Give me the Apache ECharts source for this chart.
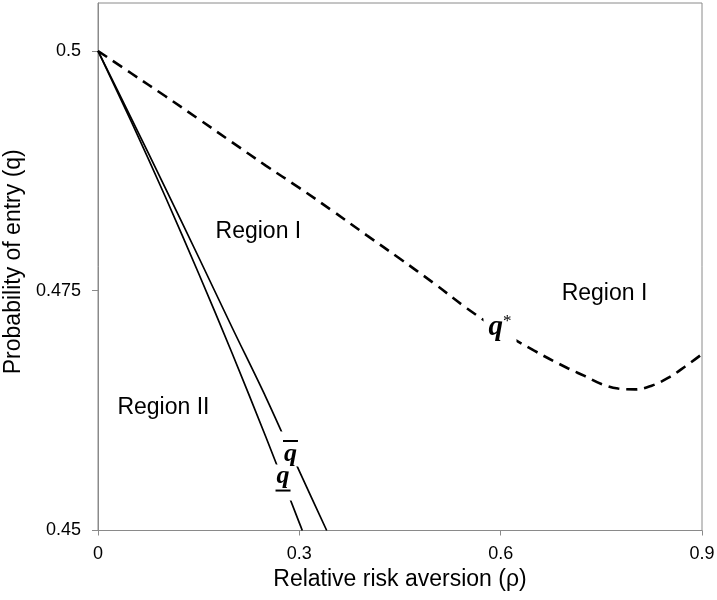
<!DOCTYPE html>
<html>
<head>
<meta charset="utf-8">
<title>Probability of entry vs relative risk aversion</title>
<script src="https://cdn.jsdelivr.net/npm/echarts@6/dist/echarts.min.js"></script>
<style>
  html, body { margin: 0; padding: 0; background: #fff; }
  #chart { width: 717px; height: 600px; }
</style>
</head>
<body>
<div id="chart"></div>
<script>
// Equilibrium threshold q* (dashed curve)
const rhoStar = [0, 0.05, 0.1, 0.15, 0.2, 0.25, 0.3, 0.35, 0.4, 0.45, 0.5, 0.55, 0.6, 0.65, 0.7, 0.725, 0.75, 0.775, 0.8, 0.825, 0.85, 0.875, 0.9];
const qStar   = [0.5, 0.49765, 0.4953, 0.4929, 0.49047, 0.48805, 0.48572, 0.4833, 0.4808, 0.47833, 0.4758, 0.47315, 0.4708, 0.46875, 0.46692, 0.46612, 0.46528, 0.4648, 0.46471, 0.4651, 0.46593, 0.4671, 0.46839];

// Upper bound q-bar (solid)
const rhoBar = [0, 0.05, 0.1, 0.15, 0.2, 0.25, 0.3, 0.3408];
const qBar   = [0.5, 0.49292, 0.48575, 0.47849, 0.47114, 0.46391, 0.45619, 0.45];

// Lower bound q-underbar (solid)
const rhoUnder = [0, 0.05, 0.1, 0.15, 0.2, 0.25, 0.3, 0.3044];
const qUnder   = [0.5, 0.49258, 0.48485, 0.4768, 0.46845, 0.45978, 0.4508, 0.45];

// Region annotations
const regionNames = ['Region I', 'Region I', 'Region II'];
const regionRho   = [0.2390, 0.7547, 0.0975];
const regionQ     = [0.4812, 0.47474, 0.46286];

// Curve tags, anchored on their curves
const tagNames = ['star', 'under', 'bar'];
const tagRho   = [0.599, 0.2757, 0.2868];
const tagQ     = [0.4712, 0.4550, 0.4585];

// Axis ticks
const xTicks = [0, 0.3, 0.6, 0.9];
const xTickLabels = ['0', '0.3', '0.6', '0.9'];
const yTicks = [0.45, 0.475, 0.5];
const yTickLabels = ['0.45', '0.475', '0.5'];

const zip = (xs, ys) => xs.map((x, i) => [x, ys[i]]);

const sansFont = '"Liberation Sans", Arial, sans-serif';
const serifFont = '"Liberation Serif", "Times New Roman", serif';
const axisGrey = '#8a8a8a';

const qGlyph = { fontFamily: serifFont, fontStyle: 'italic', fontWeight: 'bold', color: '#000' };

const tagFormat = {
  star: '{qs|q}{ast|*}',
  bar: '{ov|\u00a0}\n{qb|q}',
  under: '{qb|q}\n{ul|\u00a0}'
};
const tagPadding = {
  star: [6, 5],
  bar: [7, 5, 1, 5],
  under: [1, 5, 7, 5]
};

const chart = echarts.init(document.getElementById('chart'), null, { renderer: 'canvas' });

chart.setOption({
  animation: false,
  backgroundColor: '#fff',
  grid: {
    left: 98, right: 15, top: 3, bottom: 69.5,
    containLabel: false, outerBoundsMode: 'none',
    show: true, borderColor: axisGrey, borderWidth: 1, backgroundColor: 'transparent'
  },
  xAxis: {
    type: 'value', min: 0, max: 0.9, interval: 0.3,
    name: 'Relative risk aversion (\u03c1)',
    nameLocation: 'middle', nameGap: 36,
    nameTextStyle: { fontFamily: sansFont, fontSize: 23, color: '#000' },
    axisLine: { show: true, lineStyle: { color: axisGrey, width: 1 } },
    axisTick: { show: true, length: 5, lineStyle: { color: axisGrey }, customValues: xTicks },
    axisLabel: {
      customValues: xTicks,
      margin: 15, fontFamily: sansFont, fontSize: 18, color: '#000',
      formatter: v => xTickLabels[xTicks.findIndex(t => Math.abs(t - v) < 1e-9)] ?? ''
    },
    splitLine: { show: false }
  },
  yAxis: {
    type: 'value', min: 0.45, max: 0.505,
    name: 'Probability of entry (q)',
    nameLocation: 'middle', nameGap: 67,
    nameTextStyle: { fontFamily: sansFont, fontSize: 23, color: '#000', padding: [0, 0, 0, 10] },
    axisLine: { show: true, lineStyle: { color: axisGrey, width: 1 } },
    axisTick: { show: true, length: 6, lineStyle: { color: axisGrey }, customValues: yTicks },
    axisLabel: {
      customValues: yTicks,
      margin: 17, fontFamily: sansFont, fontSize: 18, color: '#000',
      formatter: v => yTickLabels[yTicks.findIndex(t => Math.abs(t - v) < 1e-9)] ?? ''
    },
    splitLine: { show: false }
  },
  series: [
    {
      name: 'q*', type: 'line', data: zip(rhoStar, qStar),
      smooth: 0.4, symbol: 'none', silent: true,
      lineStyle: { color: '#000', width: 2.6, type: [11, 7], cap: 'butt' }
    },
    {
      name: 'q-bar', type: 'line', data: zip(rhoBar, qBar),
      smooth: 0.3, symbol: 'none', silent: true,
      lineStyle: { color: '#000', width: 1.7 }
    },
    {
      name: 'q-under', type: 'line', data: zip(rhoUnder, qUnder),
      smooth: 0.3, symbol: 'none', silent: true,
      lineStyle: { color: '#000', width: 1.7 }
    },
    {
      name: 'regions', type: 'scatter', silent: true, z: 5,
      symbolSize: 1, itemStyle: { color: 'rgba(0,0,0,0)', opacity: 1 },
      data: regionNames.map((n, i) => ({ name: n, value: [regionRho[i], regionQ[i]] })),
      label: {
        show: true, position: 'inside', formatter: p => p.name,
        fontFamily: sansFont, fontSize: 23, color: '#000', opacity: 1
      }
    },
    {
      name: 'tags', type: 'scatter', silent: true, z: 6,
      symbolSize: 1, itemStyle: { color: 'rgba(0,0,0,0)', opacity: 1 },
      data: tagNames.map((n, i) => ({
        name: n, value: [tagRho[i], tagQ[i]],
        label: { padding: tagPadding[n] }
      })),
      label: {
        show: true, position: 'inside', align: 'center', opacity: 1,
        formatter: p => tagFormat[p.name],
        backgroundColor: '#fff',
        rich: {
          qs: Object.assign({ fontSize: 29 }, qGlyph),
          ast: { fontFamily: serifFont, fontSize: 17, color: '#000', verticalAlign: 'top', lineHeight: 17 },
          qb: Object.assign({ fontSize: 26, lineHeight: 22 }, qGlyph),
          ov: { width: 15, height: 2, fontSize: 2, lineHeight: 5, backgroundColor: '#000' },
          ul: { width: 15, height: 2, fontSize: 2, lineHeight: 6, backgroundColor: '#000' }
        }
      }
    }
  ]
});
</script>
</body>
</html>
